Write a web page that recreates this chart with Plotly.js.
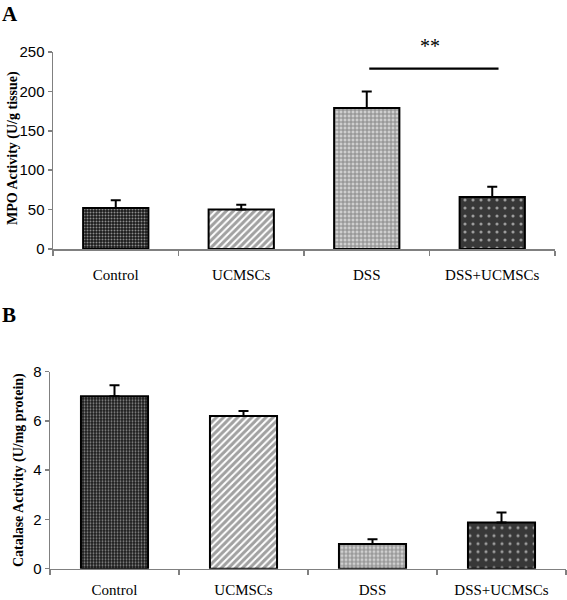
<!DOCTYPE html>
<html>
<head>
<meta charset="utf-8">
<script src="https://cdn.plot.ly/plotly-3.0.1.min.js"></script>
<style>
html,body{margin:0;padding:0;background:#fff;}
#chart{width:567px;height:600px;}
</style>
</head>
<body>
<div id="chart"></div>
<script>
// ---- data ----
const categories = ['Control', 'UCMSCs', 'DSS', 'DSS+UCMSCs'];
const mpoValues = [52, 50, 179, 66];
const mpoErrors = [10, 6, 21, 13];
const catalaseValues = [7.0, 6.2, 1.0, 1.88];
const catalaseErrors = [0.45, 0.2, 0.2, 0.4];
const panelLabels = ['A', 'B'];
const mpoTitle = 'MPO Activity (U/g tissue)';
const catalaseTitle = 'Catalase Activity (U/mg protein)';
const sigText = '**';
const sigLevel = 229;
const sigFrom = 2.02, sigTo = 3.05;

// ---- styles ----
const bgColors = ['#1a1a1a', '#ffffff', '#cfcfcf', '#383838'];
const fgColors = ['#a8a8a8', '#000000', '#000000', '#ffffff'];
const shapes = ['.', '/', '+', '.'];
const sizes = [3, 5, 4, 8];
const solidities = [0.35, 0.6, 0.45, 0.12];
const serif = 'Liberation Serif, Times New Roman, serif';
const sans = 'Liberation Sans Narrow, Arial Narrow, Liberation Sans, Arial, sans-serif';
const axisGray = '#808080';

function barTrace(vals, errs, xa, ya) {
  return {
    type: 'bar', x: categories, y: vals, xaxis: xa, yaxis: ya, width: 0.52,
    marker: {
      color: bgColors,
      line: {color: '#000', width: 2},
      pattern: {shape: shapes, fgcolor: fgColors, size: sizes, solidity: solidities, fillmode: 'overlay'}
    },
    error_y: {type: 'data', symmetric: false, array: errs, arrayminus: errs.map(() => 0),
      color: '#000', thickness: 2, width: 5},
    hoverinfo: 'skip'
  };
}

const data = [
  barTrace(mpoValues, mpoErrors, 'x', 'y'),
  barTrace(catalaseValues, catalaseErrors, 'x2', 'y2')
];

function xAxis(domain, anchor, standoff) {
  return {
    domain: domain, anchor: anchor, type: 'category',
    tickson: 'boundaries', ticks: 'outside', ticklen: 5, tickwidth: 1.5, tickcolor: axisGray,
    showline: true, linecolor: axisGray, linewidth: 1.5,
    showgrid: false, zeroline: false, ticklabelstandoff: standoff,
    tickfont: {family: serif, size: 15, color: '#000'}, fixedrange: true
  };
}
function yAxis(domain, anchor, range, dtick) {
  return {
    domain: domain, anchor: anchor, range: range, dtick: dtick,
    ticks: 'outside', ticklen: 4, tickwidth: 1.5, tickcolor: axisGray,
    showline: true, linecolor: axisGray, linewidth: 1.5,
    showgrid: false, zeroline: false,
    tickfont: {family: sans, size: 15, color: '#000'}, fixedrange: true
  };
}

const layout = {
  width: 567, height: 600,
  margin: {l: 0, r: 0, t: 0, b: 0},
  paper_bgcolor: '#fff', plot_bgcolor: '#fff',
  showlegend: false,
  xaxis: xAxis([53/567, 555/567], 'y', 11),
  yaxis: yAxis([(600-249)/600, (600-52)/600], 'x', [0, 250], 50),
  xaxis2: xAxis([50/567, 566/567], 'y2', 7),
  yaxis2: yAxis([(600-568.7)/600, (600-371.7)/600], 'x2', [0, 8], 2),
  shapes: [
    {type: 'line', xref: 'x', yref: 'y', x0: sigFrom, x1: sigTo, y0: sigLevel, y1: sigLevel,
     line: {color: '#000', width: 2.2}}
  ],
  annotations: [
    {text: sigText, xref: 'x', yref: 'paper', x: 2.5, y: 1 - 46/600, yanchor: 'middle', showarrow: false,
     font: {family: serif, size: 20, color: '#000'}},
    {text: '<b>' + panelLabels[0] + '</b>', xref: 'paper', yref: 'paper', x: 1/567, y: 1 - 1/600,
     xanchor: 'left', yanchor: 'top', showarrow: false, borderpad: 0,
     font: {family: serif, size: 21, color: '#000'}},
    {text: '<b>' + panelLabels[1] + '</b>', xref: 'paper', yref: 'paper', x: 1/567, y: 1 - 302/600,
     xanchor: 'left', yanchor: 'top', showarrow: false, borderpad: 0,
     font: {family: serif, size: 21, color: '#000'}},
    {text: '<b>' + mpoTitle + '</b>', xref: 'paper', yref: 'paper', x: 13/567, y: 1 - 148/600,
     xanchor: 'center', yanchor: 'middle', textangle: -90, showarrow: false,
     font: {family: serif, size: 14, color: '#000'}},
    {text: '<b>' + catalaseTitle + '</b>', xref: 'paper', yref: 'paper', x: 19/567, y: 1 - 470/600,
     xanchor: 'center', yanchor: 'middle', textangle: -90, showarrow: false,
     font: {family: serif, size: 14, color: '#000'}}
  ]
};

Plotly.newPlot('chart', data, layout, {staticPlot: true, displayModeBar: false});
</script>
</body>
</html>
